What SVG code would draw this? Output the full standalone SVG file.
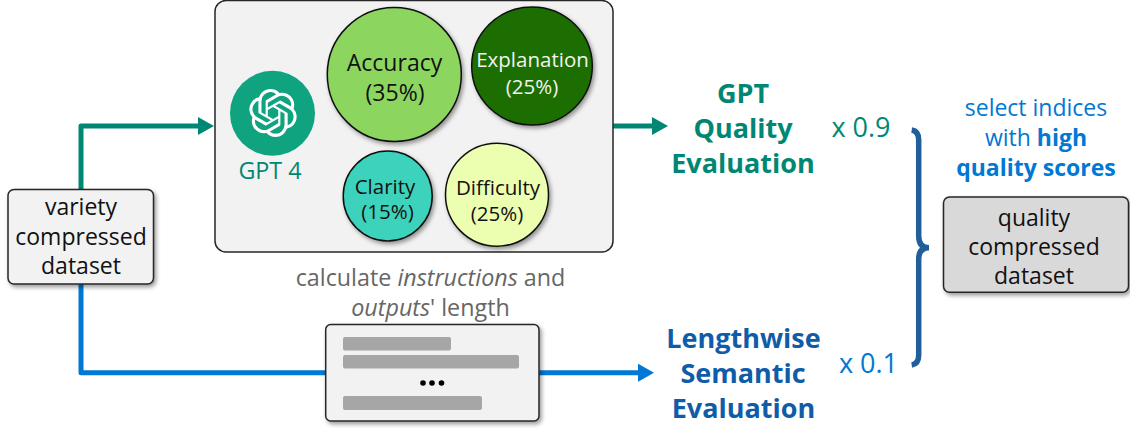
<svg xmlns="http://www.w3.org/2000/svg" width="1130" height="428" viewBox="0 0 1130 428">
<style>
text{font-family:"Open Sans","Noto Sans",sans-serif;text-anchor:middle}
.box{stroke:#262626;stroke-width:1.5;fill:#f2f2f2}
.c{stroke:#111;stroke-width:1.5}
.t{font-size:23px;fill:#111}
.w{font-size:20.500px;fill:#f2f2f2}
.s{font-size:20.500px;fill:#111}
.g{font-size:23.300px;fill:#666}
.sel{font-size:23px;fill:#0078d4}
.head{font-size:27px;font-weight:700}
.fac{font-size:27px}
.teal{fill:#008774}.dblue{fill:#0f5ca8}.blue{fill:#0078d4}
.line{fill:none;stroke-width:5;stroke-linejoin:round}
.bar{fill:#a6a6a6}
</style>
<defs>
<filter id="sh" x="-10%" y="-10%" width="125%" height="125%"><feDropShadow dx="2" dy="2.500" stdDeviation="2" flood-color="#000" flood-opacity="0.4"/></filter>
<marker id="ah1" markerUnits="userSpaceOnUse" markerWidth="18" markerHeight="18" refX="1" refY="9" orient="auto"><path d="M0 0L16 9L0 18Z" fill="#008774"/></marker>
<marker id="ah2" markerUnits="userSpaceOnUse" markerWidth="18" markerHeight="18" refX="1" refY="9" orient="auto"><path d="M0 0L16 9L0 18Z" fill="#0078d4"/></marker>
</defs>
<g id="connectors">
<path class="line" d="M81 190V126H199" stroke="#008774" marker-end="url(#ah1)"/>
<path class="line" d="M613 126H653" stroke="#008774" marker-end="url(#ah1)"/>
<path class="line" d="M81 284V372.700H639" stroke="#0078d4" marker-end="url(#ah2)"/>
<path id="brace" d="M911.700 130Q918.700 131 918.700 140V236Q918.700 247.700 929 247.700Q918.700 247.700 918.700 259V355Q918.700 364 911.700 365" fill="none" stroke="#215f9a" stroke-width="5.500"/>
</g>
<g id="panel">
<rect class="box" x="215" y="0.500" width="398" height="251.500" rx="11"/>
</g>
<g id="gpt4">
<circle cx="272.500" cy="113.300" r="42.500" fill="#10a37f"/>
<path transform="translate(249 89) scale(2)" fill="#fff" d="M22.2819 9.8211a5.9847 5.9847 0 0 0-.5157-4.9108 6.0462 6.0462 0 0 0-6.5098-2.9A6.0651 6.0651 0 0 0 4.9807 4.1818a5.9847 5.9847 0 0 0-3.9977 2.9 6.0462 6.0462 0 0 0 .7427 7.0966 5.98 5.98 0 0 0 .511 4.9107 6.051 6.051 0 0 0 6.5146 2.9001A5.9847 5.9847 0 0 0 13.2599 24a6.0557 6.0557 0 0 0 5.7718-4.2058 5.9894 5.9894 0 0 0 3.9977-2.9001 6.0557 6.0557 0 0 0-.7475-7.0729zm-9.022 12.6081a4.4755 4.4755 0 0 1-2.8764-1.0408l.1419-.0804 4.7783-2.7582a.7948.7948 0 0 0 .3927-.6813v-6.7369l2.02 1.1686a.071.071 0 0 1 .038.052v5.5826a4.504 4.504 0 0 1-4.4945 4.4944zm-9.6607-4.1254a4.4708 4.4708 0 0 1-.5346-3.0137l.142.0852 4.783 2.7582a.7712.7712 0 0 0 .7806 0l5.8428-3.3685v2.3324a.0804.0804 0 0 1-.0332.0615L9.74 19.9502a4.4992 4.4992 0 0 1-6.1408-1.6464zM2.3408 7.8956a4.485 4.485 0 0 1 2.3655-1.9728V11.6a.7664.7664 0 0 0 .3879.6765l5.8144 3.3543-2.0201 1.1685a.0757.0757 0 0 1-.071 0l-4.8303-2.7865A4.504 4.504 0 0 1 2.3408 7.872zm16.5963 3.8558L13.1038 8.364 15.1192 7.2a.0757.0757 0 0 1 .071 0l4.8303 2.7913a4.4944 4.4944 0 0 1-.6765 8.1042v-5.6772a.79.79 0 0 0-.407-.667zm2.0107-3.0231l-.142-.0852-4.7735-2.7818a.7759.7759 0 0 0-.7854 0L9.409 9.2297V6.8974a.0662.0662 0 0 1 .0284-.0615l4.8303-2.7866a4.4992 4.4992 0 0 1 6.6802 4.66zM8.3065 12.863l-2.02-1.1638a.0804.0804 0 0 1-.038-.0567V6.0742a4.4992 4.4992 0 0 1 7.3757-3.4537l-.142.0805L8.704 5.459a.7948.7948 0 0 0-.3927.6813zm1.0976-2.3654l2.602-1.4998 2.6069 1.4998v2.9994l-2.5974 1.4997-2.6067-1.4997Z"/>
<text x="270" y="179" class="g" style="fill:#008774">GPT 4</text>
</g>
<g id="accuracy">
<circle class="c" cx="394.300" cy="74.500" r="67" fill="#8cd65e" filter="url(#sh)"/>
<text class="t"><tspan x="394.500" y="71">Accuracy</tspan><tspan x="395" y="101">(35%)</tspan></text>
</g>
<g id="explanation">
<ellipse class="c" cx="532" cy="66" rx="60.300" ry="59" fill="#1a6e03" filter="url(#sh)"/>
<text class="w"><tspan x="532.500" y="67">Explanation</tspan><tspan x="532" y="93.500">(25%)</tspan></text>
</g>
<g id="clarity">
<ellipse class="c" cx="387.700" cy="196" rx="44.500" ry="45" fill="#3dd2bb" filter="url(#sh)"/>
<text class="s"><tspan x="385" y="193.500">Clarity</tspan><tspan x="387.500" y="219">(15%)</tspan></text>
</g>
<g id="difficulty">
<ellipse class="c" cx="497" cy="194.700" rx="51.500" ry="51.500" fill="#ecfeb0" filter="url(#sh)"/>
<text class="s"><tspan x="498" y="195">Difficulty</tspan><tspan x="497" y="221">(25%)</tspan></text>
</g>
<g id="variety">
<rect class="box" x="8" y="189.500" width="145.500" height="94.500" rx="6" filter="url(#sh)"/>
<text class="t"><tspan x="81" y="215">variety</tspan><tspan x="81" y="245">compressed</tspan><tspan x="81" y="274">dataset</tspan></text>
</g>
<g id="length">
<text class="g"><tspan x="430.500" y="286">calculate <tspan font-style="italic">instructions</tspan> and</tspan><tspan x="430.500" y="315.500"><tspan font-style="italic">outputs</tspan>' length</tspan></text>
<rect class="box" x="325.700" y="324.500" width="213.300" height="96.500" rx="5" filter="url(#sh)"/>
<rect class="bar" x="343" y="337" width="108" height="13.500" rx="2"/>
<rect class="bar" x="343" y="355" width="176" height="13.500" rx="2"/>
<rect class="bar" x="343" y="396" width="139" height="14" rx="2"/>
<circle cx="423" cy="383" r="2.800"/><circle cx="432" cy="383" r="2.800"/><circle cx="441.500" cy="383" r="2.800"/>
</g>
<g id="gpt-eval">
<text class="head teal"><tspan x="743" y="103">GPT</tspan><tspan x="743" y="138">Quality</tspan><tspan x="743" y="173">Evaluation</tspan></text>
<text x="861" y="137" class="fac teal">x 0.9</text>
</g>
<g id="length-eval">
<text class="head dblue"><tspan x="743.500" y="348">Lengthwise</tspan><tspan x="743" y="383">Semantic</tspan><tspan x="743.500" y="418">Evaluation</tspan></text>
<text x="868.500" y="373" class="fac blue">x 0.1</text>
</g>
<g id="select">
<text class="sel"><tspan x="1036" y="116">select indices</tspan><tspan x="1036" y="145.500">with <tspan font-weight="700">high</tspan></tspan><tspan x="1036" y="176" font-weight="700">quality scores</tspan></text>
</g>
<g id="quality">
<rect class="box" x="943.500" y="197" width="185" height="95.300" rx="6" style="fill:#d9d9d9" filter="url(#sh)"/>
<text class="t"><tspan x="1034" y="226">quality</tspan><tspan x="1034" y="255">compressed</tspan><tspan x="1034" y="284">dataset</tspan></text>
</g>
</svg>
